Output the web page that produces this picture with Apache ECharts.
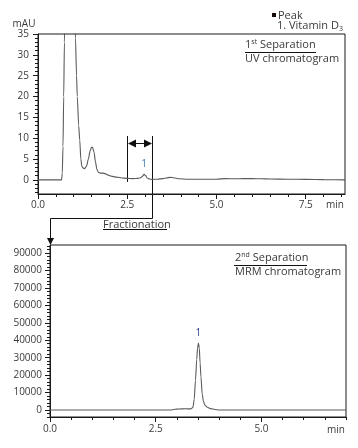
<!DOCTYPE html>
<html><head><meta charset="utf-8">
<script src="https://cdn.jsdelivr.net/npm/echarts@6/dist/echarts.min.js"></script>
<style>html,body{margin:0;padding:0;background:#fff}#c{width:358px;height:448px}</style>
</head><body><div id="c"></div>
<script>
// ---- 1st separation: UV chromatogram (time in min, signal in mAU) ----
const uvTime = [0, 0.3, 0.6, 0.66, 0.68, 0.70, 0.72, 0.74, 0.76, 0.80, 0.88, 0.95, 1.00, 1.03, 1.05, 1.08, 1.10, 1.14, 1.17, 1.20, 1.23, 1.27, 1.31, 1.36, 1.41, 1.46, 1.50, 1.53, 1.57, 1.61, 1.65, 1.69, 1.75, 1.82, 1.88, 1.95, 2.05, 2.2, 2.35, 2.5, 2.65, 2.8, 2.88, 2.93, 2.97, 3.01, 3.06, 3.12, 3.2, 3.35, 3.5, 3.6, 3.7, 3.8, 3.95, 4.2, 4.6, 5.0, 5.25, 5.5, 5.75, 6.0, 6.25, 6.5, 7.0, 7.5, 8.0, 8.6];
const uvSignal = [0, 0, 0, 0, 1.5, 8, 20, 33, 45, 70, 95, 80, 55, 40, 34, 25, 20, 13, 9.5, 5, 3.2, 2.8, 2.7, 3.3, 5.0, 6.9, 7.8, 7.8, 6.6, 4.3, 2.5, 1.8, 1.6, 1.6, 1.5, 1.2, 0.9, 0.65, 0.45, 0.35, 0.3, 0.35, 0.5, 0.9, 1.35, 1.0, 0.45, 0.2, 0.1, 0.15, 0.3, 0.45, 0.6, 0.5, 0.25, 0.15, 0.15, 0.15, 0.3, 0.25, 0.3, 0.3, 0.25, 0.2, 0.15, 0.1, 0.05, 0.0];
// ---- 2nd separation: MRM chromatogram ----
const mrmTime = [0, 1.0, 2.0, 2.85, 2.95, 3.05, 3.2, 3.33, 3.38, 3.41, 3.44, 3.47, 3.49, 3.51, 3.53, 3.55, 3.57, 3.60, 3.63, 3.67, 3.72, 3.80, 3.90, 4.0, 5.0, 6.0, 7.0];
const mrmSignal = [0, 0, 0, 0, 400, 600, 700, 650, 1500, 6000, 17000, 29000, 35500, 38400, 35500, 27000, 19000, 9000, 4800, 2600, 1600, 800, 300, 0, 0, 0, 0];
// ---- tick labels ----
const uvYLabels = [0, 5, 10, 15, 20, 25, 30, 35];
const uvXLabels = [0, 2.5, 5.0, 7.5];
const mrmYLabels = [0, 10000, 20000, 30000, 40000, 50000, 60000, 70000, 80000, 90000];
const mrmXLabels = [0, 2.5, 5.0];
const fractionWindow = [2.5, 3.18];
const peak1UV = [2.97, 1.35];
const peak1MRM = [3.51, 38400];

function range(a, b, s) { const r = []; for (let v = a; v <= b + 1e-9; v += s) r.push(+v.toFixed(4)); return r; }
const uvYMinor = range(-3, 35, 1);
const uvXMinor = range(0, 8.5, 0.5);
const mrmYMinor = range(-4000, 94000, 2000);
const mrmXMinor = range(0, 7.0, 0.5);

const FONT = 'Open Sans';
const TXT = '#3a3a3a';
const AX = '#1a1a1a';

function xAxes(grid, min, max, labels, minor, margin) {
  return [{
    gridIndex: grid, type: 'value', min: min, max: max, position: 'bottom',
    axisLine: { show: true, onZero: false, lineStyle: { color: AX, width: 1 } },
    axisTick: { show: true, customValues: labels, length: 5, lineStyle: { color: AX } },
    axisLabel: { customValues: labels, formatter: v => v.toFixed(1), fontFamily: FONT, fontSize: 10, color: TXT, margin: margin },
    splitLine: { show: false }
  }, {
    gridIndex: grid, type: 'value', min: min, max: max, position: 'bottom',
    axisLine: { show: false, onZero: false },
    axisTick: { show: true, customValues: minor, length: 3, lineStyle: { color: AX } },
    axisLabel: { show: false }, splitLine: { show: false }
  }];
}
function yAxes(grid, min, max, labels, minor, margin) {
  return [{
    gridIndex: grid, type: 'value', min: min, max: max, position: 'left',
    axisLine: { show: true, onZero: false, lineStyle: { color: AX, width: 1 } },
    axisTick: { show: true, customValues: labels, length: 5, lineStyle: { color: AX } },
    axisLabel: { customValues: labels, formatter: v => String(v), fontFamily: FONT, fontSize: 10, color: TXT, margin: margin },
    splitLine: { show: false }
  }, {
    gridIndex: grid, type: 'value', min: min, max: max, position: 'left',
    axisLine: { show: false, onZero: false },
    axisTick: { show: true, customValues: minor, length: 3, lineStyle: { color: AX } },
    axisLabel: { show: false }, splitLine: { show: false }
  }];
}

const chart = echarts.init(document.getElementById('c'), null, { renderer: 'canvas' });
chart.setOption({
  animation: false,
  backgroundColor: '#fff',
  grid: [
    { left: 38, right: 13, top: 34, height: 160, show: true, borderColor: AX, borderWidth: 1 },
    { left: 50, right: 12, top: 245, bottom: 31, show: true, borderColor: AX, borderWidth: 1 }
  ],
  xAxis: [].concat(xAxes(0, 0, 8.6, uvXLabels, uvXMinor, 6), xAxes(1, 0, 7.0, mrmXLabels, mrmXMinor, 7)),
  yAxis: [].concat(yAxes(0, -3.4, 35, uvYLabels, uvYMinor, 9), yAxes(1, -4000, 94600, mrmYLabels, mrmYMinor, 8)),
  series: [
    { type: 'line', xAxisIndex: 0, yAxisIndex: 0, showSymbol: false, clip: true, smooth: 0.25, smoothMonotone: 'x',
      lineStyle: { color: '#5a5a5a', width: 1.1 }, data: uvTime.map((t, i) => [t, uvSignal[i]]) },
    { type: 'line', xAxisIndex: 2, yAxisIndex: 2, showSymbol: false, clip: true, smooth: 0.25, smoothMonotone: 'x',
      lineStyle: { color: '#5a5a5a', width: 1.1 }, data: mrmTime.map((t, i) => [t, mrmSignal[i]]) }
  ]
});

// ---- annotations derived from the axes ----
const pL = chart.convertToPixel({ gridIndex: 0 }, [fractionWindow[0], -0.5]);
const pR = chart.convertToPixel({ gridIndex: 0 }, [fractionWindow[1], 0]);
const g1 = chart.getModel().getComponent('grid', 0).coordinateSystem.getRect();
const g2 = chart.getModel().getComponent('grid', 1).coordinateSystem.getRect();
const pk1 = chart.convertToPixel({ gridIndex: 0 }, peak1UV);
const pk2 = chart.convertToPixel({ gridIndex: 1 }, peak1MRM);
const xL = Math.round(pL[0]) + 0.5, xR = Math.round(pR[0]) + 0.5;
const yTop = 136, yArrow = 143.5, yLink = 218.5, xB = Math.round(g2.x) + 0.5;
const ls = { stroke: '#111', lineWidth: 1 };
const txt = (x, y, text, extra) => Object.assign({ type: 'text', x: x, y: y, style: Object.assign({ text: text, fill: TXT, font: '11px "' + FONT + '"', textVerticalAlign: 'middle' }, extra || {}) });
const line = (x1, y1, x2, y2) => ({ type: 'line', shape: { x1, y1, x2, y2 }, style: ls });

chart.setOption({
  graphic: [
    line(xL, yTop, xL, pL[1]),
    line(xR, yTop, xR, yLink),
    line(xR, yLink, xB, yLink),
    line(xB, yLink, xB, g2.y - 6),
    { type: 'polygon', shape: { points: [[xB - 3.5, g2.y - 7], [xB + 3.5, g2.y - 7], [xB, g2.y]] }, style: { fill: '#111' } },
    line(xL + 6, yArrow, xR - 6, yArrow),
    { type: 'polygon', shape: { points: [[xL + 0.5, yArrow], [xL + 8.5, yArrow - 4], [xL + 8.5, yArrow + 4]] }, style: { fill: '#111' } },
    { type: 'polygon', shape: { points: [[xR - 0.5, yArrow], [xR - 8.5, yArrow - 4], [xR - 8.5, yArrow + 4]] }, style: { fill: '#111' } },
    // peak labels
    txt(pk1[0], pk1[1] - 10, '1', { fill: '#3f78b0', textAlign: 'center', font: '10px "' + FONT + '"' }),
    txt(pk2[0], pk2[1] - 10, '1', { fill: '#2c3f86', textAlign: 'center', font: '10px "' + FONT + '"' }),
    // axis units
    txt(24, 24, 'mAU', { textAlign: 'center', font: '10px "' + FONT + '"' }),
    txt(g1.x + g1.width - 1, 205, 'min', { textAlign: 'right', font: '10px "' + FONT + '"' }),
    txt(g2.x + g2.width - 1, 430, 'min', { textAlign: 'right', font: '10px "' + FONT + '"' }),
    // legend
    { type: 'rect', shape: { x: 272, y: 13, width: 4, height: 4 }, style: { fill: '#1a0a0a' } },
    txt(278, 15.5, 'Peak'),
    { type: 'text', x: 277, y: 26, style: { text: '1. Vitamin D{s|3}', fill: TXT, font: '11px "' + FONT + '"', textVerticalAlign: 'middle',
      rich: { s: { fontSize: 7, fontFamily: FONT, fill: TXT, verticalAlign: 'bottom', lineHeight: 13 } } } },
    // titles
    { type: 'text', x: 245, y: 45, style: { text: '1{s|st} Separation', fill: TXT, font: '11px "' + FONT + '"', textVerticalAlign: 'middle',
      rich: { s: { fontSize: 7, fontFamily: FONT, fill: TXT, verticalAlign: 'top', lineHeight: 13 } } } },
    line(245, 52.5, 316, 52.5),
    txt(245, 59, 'UV chromatogram'),
    { type: 'text', x: 235, y: 258, style: { text: '2{s|nd} Separation', fill: TXT, font: '11px "' + FONT + '"', textVerticalAlign: 'middle',
      rich: { s: { fontSize: 7, fontFamily: FONT, fill: TXT, verticalAlign: 'top', lineHeight: 13 } } } },
    line(234, 265.5, 307, 265.5),
    txt(235, 272, 'MRM chromatogram'),
    txt(103, 224.5, 'Fractionation'),
    line(103, 229.5, 167, 229.5)
  ]
});
</script></body></html>
